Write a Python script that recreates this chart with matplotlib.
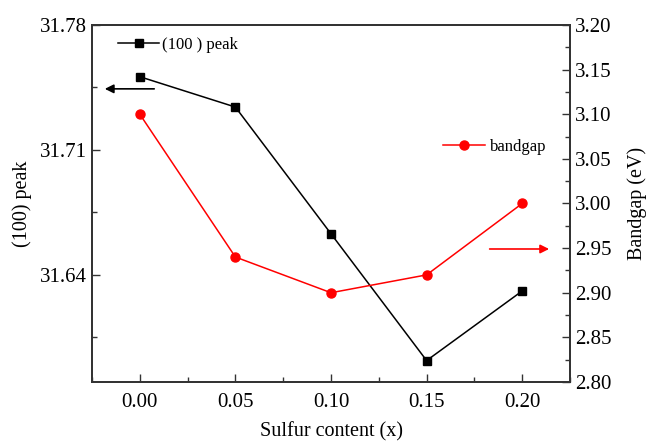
import matplotlib
matplotlib.use("Agg")
import matplotlib.pyplot as plt
from matplotlib.ticker import MultipleLocator

plt.rcParams["font.family"] = ["Liberation Serif", "DejaVu Serif"]

# Données
sulfur = [0.00, 0.05, 0.10, 0.15, 0.20]
peak_100 = [31.751, 31.734, 31.663, 31.592, 31.631]
bandgap = [3.10, 2.94, 2.90, 2.92, 3.00]

fig = plt.figure(figsize=(6.46, 4.43), dpi=100)
ax1 = fig.add_axes([0.1424, 0.1377, 0.74, 0.806])
ax2 = ax1.twinx()

l1, = ax1.plot(sulfur, peak_100, color="black", marker="s", ms=6, lw=1.1,
               label="(100 ) peak")
l2, = ax2.plot(sulfur, bandgap, color="red", marker="o", ms=6.5, lw=1.1,
               label="bandgap")

ax1.set_xlim(-0.025, 0.225)
ax1.set_ylim(31.58, 31.78)
ax2.set_ylim(2.80, 3.20)

ax1.xaxis.set_major_locator(MultipleLocator(0.05))
ax1.xaxis.set_minor_locator(MultipleLocator(0.025))
ax1.yaxis.set_major_locator(MultipleLocator(0.07))
ax1.yaxis.set_minor_locator(MultipleLocator(0.035))
ax2.yaxis.set_major_locator(MultipleLocator(0.05))
ax2.yaxis.set_minor_locator(MultipleLocator(0.025))
ax1.xaxis.set_major_formatter(plt.FormatStrFormatter("%.2f"))
ax1.yaxis.set_major_formatter(plt.FormatStrFormatter("%.2f"))
ax2.yaxis.set_major_formatter(plt.FormatStrFormatter("%.2f"))

for ax in (ax1, ax2):
    ax.tick_params(which="both", direction="in", labelsize=15, color="#333333")
    ax.tick_params(which="major", length=6, width=1)
    ax.tick_params(which="minor", length=3.5, width=1)
    for sp in ax.spines.values():
        sp.set_linewidth(1.3)
        sp.set_color("#333333")
ax1.tick_params(axis="x", top=False, pad=8)
ax1.tick_params(axis="y", right=False)

ax1.set_xlabel("Sulfur content (x)", fontsize=14.5, labelpad=7)
ax1.set_ylabel("(100) peak", fontsize=14.5, labelpad=6)
ax2.set_ylabel("Bandgap (eV)", fontsize=14.5, labelpad=11)

ax1.legend(handles=[l1], loc="center left", bbox_to_anchor=(0.054, 0.944),
           frameon=False, fontsize=12, borderpad=0, borderaxespad=0,
           handlelength=2.5, handletextpad=0.15)
ax2.legend(handles=[l2], loc="center left", bbox_to_anchor=(0.734, 0.658),
           frameon=False, fontsize=12, borderpad=0, borderaxespad=0,
           handlelength=2.5, handletextpad=0.3)

# Flèches indiquant l'axe de chaque courbe
ax1.annotate("", xy=(0.021, 0.821), xytext=(0.136, 0.821), xycoords="axes fraction",
             arrowprops=dict(arrowstyle="-|>", color="black", lw=1.2, mutation_scale=13))
ax1.annotate("", xy=(0.962, 0.3725), xytext=(0.826, 0.3725), xycoords="axes fraction",
             arrowprops=dict(arrowstyle="-|>", color="red", lw=1.2, mutation_scale=13))

fig.savefig("out.png", dpi=100)
